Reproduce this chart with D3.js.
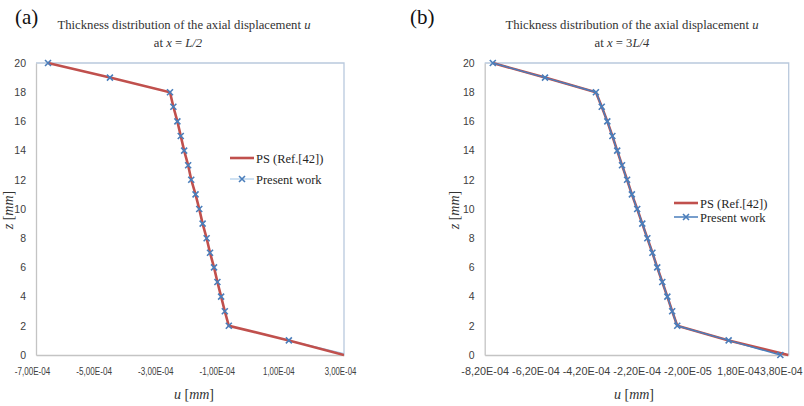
<!DOCTYPE html>
<html>
<head>
<meta charset="utf-8">
<script src="https://cdn.jsdelivr.net/npm/d3@7"></script>
<style>
  body { margin: 0; background: #fff; }
  text { font-family: "Liberation Sans", Arial, sans-serif; }
  .serif { font-family: "Liberation Serif", "Times New Roman", serif; }
</style>
</head>
<body>
<div class="vis"></div>
<script>
// thickness coordinate z [mm]
const zLevels = [20, 19, 18, 17, 16, 15, 14, 13, 12, 11, 10, 9, 8, 7, 6, 5, 4, 3, 2, 1, 0];

// (a) x = L/2
const psA = [-6.61e-4, -4.60e-4, -2.65e-4, -2.54e-4, -2.41e-4, -2.30e-4, -2.19e-4, -2.06e-4, -1.96e-4, -1.82e-4, -1.70e-4,
  -1.59e-4, -1.46e-4, -1.35e-4, -1.22e-4, -1.11e-4, -0.99e-4, -0.87e-4, -0.74e-4, 1.21e-4, 3.0e-4];
// last point lies past the axis end, so its marker is cut off like in excel
const presentA = [-6.61e-4, -4.60e-4, -2.65e-4, -2.54e-4, -2.41e-4, -2.30e-4, -2.19e-4, -2.06e-4, -1.96e-4, -1.82e-4, -1.70e-4,
  -1.59e-4, -1.46e-4, -1.35e-4, -1.22e-4, -1.11e-4, -0.99e-4, -0.87e-4, -0.74e-4, 1.21e-4, 3.2e-4];

// (b) x = 3L/4
const psB = [-7.88e-4, -5.82e-4, -3.81e-4, -3.58e-4, -3.36e-4, -3.16e-4, -2.97e-4, -2.78e-4, -2.58e-4, -2.39e-4, -2.18e-4,
  -1.98e-4, -1.78e-4, -1.58e-4, -1.39e-4, -1.19e-4, -0.99e-4, -0.80e-4, -0.60e-4, 1.43e-4, 3.78e-4];
const presentB = [-7.88e-4, -5.82e-4, -3.81e-4, -3.58e-4, -3.36e-4, -3.16e-4, -2.97e-4, -2.78e-4, -2.58e-4, -2.39e-4, -2.18e-4,
  -1.98e-4, -1.78e-4, -1.58e-4, -1.39e-4, -1.19e-4, -0.99e-4, -0.80e-4, -0.60e-4, 1.43e-4, 3.47e-4];

const xTicksA = [-7e-4, -5e-4, -3e-4, -1e-4, 1e-4, 3e-4];
const xTicksB = [-8.2e-4, -6.2e-4, -4.2e-4, -2.2e-4, -2e-5, 1.8e-4, 3.8e-4];
const yTicks = [0, 2, 4, 6, 8, 10, 12, 14, 16, 18, 20];
const seriesNames = ["PS (Ref.[42])", "Present work"];

// excel style "-7,00E-04"
const sci = v => {
  let s = d3.format(".2e")(v).replace("\u2212", "-").replace(".", ",");
  let [m, e] = s.split("e");
  let neg = e.indexOf("-") >= 0 || e.indexOf("\u2212") >= 0;
  let ex = e.replace(/[+\-\u2212]/, "");
  if (ex.length < 2) ex = "0" + ex;
  return m + "E" + (neg ? "-" : "+") + ex;
};

const svg = d3.select(".vis").append("svg")
  .attr("width", 804).attr("height", 406);

const draw = (opt) => {
  const x = d3.scaleLinear().domain(opt.xDomain).range(opt.xRange);
  const y = d3.scaleLinear().domain([0, 20]).range([355, 63]);
  const g = svg.append("g");

  const clipId = "clip" + opt.tag;
  svg.append("clipPath").attr("id", clipId).append("rect")
    .attr("x", opt.xRange[0] - 6).attr("y", 56)
    .attr("width", opt.xRange[1] - opt.xRange[0] + 6 + opt.clipPad).attr("height", 306);

  // plot area border (top/right)
  g.append("path")
    .attr("d", `M${opt.xRange[0]},63H${opt.xRange[1]}V355`)
    .attr("fill", "none").attr("stroke", "#b9c9dd").attr("stroke-width", 1.3);

  // axes
  const xAxis = g.append("g").attr("transform", "translate(0,355)")
    .call(d3.axisBottom(x).tickValues(opt.xTicks).tickSize(0).tickPadding(12).tickFormat(sci));
  const yAxis = g.append("g").attr("transform", `translate(${opt.xRange[0]},0)`)
    .call(d3.axisLeft(y).tickValues(yTicks).tickSize(0).tickPadding(10));
  [xAxis, yAxis].forEach(a => {
    a.select(".domain").attr("stroke", "#c4c4c4").attr("stroke-width", 1.3);
    a.selectAll("text").attr("font-size", 10.5).attr("fill", "#404040")
      .attr("font-family", "'Liberation Sans', Arial, sans-serif");
  });
  // the source used a narrow font (Calibri), so squeeze labels to its widths
  xAxis.selectAll("text")
    .attr("font-size", opt.labelSize)
    .attr("dx", opt.labelShift)
    .attr("textLength", function () { return this.textContent.length * opt.charWidth; })
    .attr("lengthAdjust", "spacingAndGlyphs");
  if (opt.lastLabelEnd) {
    const last = opt.xTicks[opt.xTicks.length - 1];
    xAxis.selectAll(".tick").filter(d => d === last).select("text")
      .attr("text-anchor", "end").attr("x", opt.lastLabelEnd - x(last)).attr("dx", 0);
  }

  const line = d3.line().x(d => x(d[0])).y(d => y(d[1]));
  const psData = opt.ps.map((v, i) => [v, zLevels[i]]);
  const prData = opt.present.map((v, i) => [v, zLevels[i]]);

  const lines = g.append("g").attr("clip-path", `url(#${clipId})`);
  const drawPs = () => lines.append("path").datum(psData).attr("d", line)
    .attr("fill", "none").attr("stroke", "#c0504d").attr("stroke-width", 2.6);
  const drawPr = () => lines.append("path").datum(prData).attr("d", line)
    .attr("fill", "none").attr("stroke", opt.presentColor).attr("stroke-width", opt.presentWidth);
  if (opt.presentOnTop) { drawPs(); drawPr(); } else { drawPr(); drawPs(); }

  const cross = (sel, cx, cy) => sel.append("path")
    .attr("d", `M${cx - 3},${cy - 3}L${cx + 3},${cy + 3}M${cx - 3},${cy + 3}L${cx + 3},${cy - 3}`)
    .attr("stroke", "#4a7ebb").attr("stroke-width", 1.6).attr("fill", "none");
  const marks = lines.append("g");
  prData.forEach(d => cross(marks, x(d[0]), y(d[1])));

  // legend
  const lg = g.append("g").attr("transform", `translate(${opt.legend[0]},${opt.legend[1]})`);
  lg.append("line").attr("x1", 0).attr("x2", 24).attr("y1", 0).attr("y2", 0)
    .attr("stroke", "#c0504d").attr("stroke-width", 2.6);
  lg.append("line").attr("x1", 0).attr("x2", 24).attr("y1", opt.legendGap).attr("y2", opt.legendGap)
    .attr("stroke", opt.presentColor).attr("stroke-width", Math.max(1, opt.presentWidth));
  cross(lg, 12, opt.legendGap);
  seriesNames.forEach((n, i) => lg.append("text").attr("class", "serif")
    .attr("x", 26).attr("y", i * opt.legendGap + 4.5)
    .attr("font-size", 12.5).attr("fill", "#262626").text(n));

  // titles
  const t1 = g.append("text").attr("class", "serif").attr("x", opt.titleX).attr("y", 29)
    .attr("text-anchor", "middle").attr("font-size", 12.7).attr("fill", "#333");
  t1.append("tspan").text("Thickness distribution of the axial displacement ");
  t1.append("tspan").attr("font-style", "italic").text("u");
  const t2 = g.append("text").attr("class", "serif").attr("x", opt.subX).attr("y", 47)
    .attr("text-anchor", "middle").attr("font-size", 12.7).attr("fill", "#333");
  opt.sub.forEach(p => t2.append("tspan").attr("font-style", p[1] ? "italic" : null).text(p[0]));

  g.append("text").attr("class", "serif").attr("x", opt.panel[1]).attr("y", 24)
    .attr("font-size", 21).attr("fill", "#111").text(opt.panel[0]);

  // axis titles
  const xt = g.append("text").attr("class", "serif").attr("x", opt.xTitleX).attr("y", 399)
    .attr("text-anchor", "middle").attr("font-size", 14).attr("fill", "#333");
  xt.append("tspan").attr("font-style", "italic").text("u");
  xt.append("tspan").text(" [");
  xt.append("tspan").attr("font-style", "italic").text("mm");
  xt.append("tspan").text("]");
  const yt = g.append("text").attr("class", "serif")
    .attr("transform", `translate(${opt.yTitleX},210) rotate(-90)`)
    .attr("text-anchor", "middle").attr("font-size", 14).attr("fill", "#333");
  yt.append("tspan").attr("font-style", "italic").text("z");
  yt.append("tspan").text(" [");
  yt.append("tspan").attr("font-style", "italic").text("mm");
  yt.append("tspan").text("]");
};

draw({
  tag: "a", xDomain: [-7e-4, 3e-4], xRange: [36, 344], xTicks: xTicksA,
  labelShift: -4, labelSize: 11, charWidth: 3.95, lastLabelEnd: null, clipPad: 0,
  ps: psA, present: presentA, presentColor: "#9dc3e6", presentWidth: 1, presentOnTop: false,
  legend: [230, 158], legendGap: 21, titleX: 184, subX: 178,
  sub: [["at  "], ["x", true], [" = "], ["L/2", true]], panel: ["(a)", 15],
  xTitleX: 194, yTitleX: 13
});

draw({
  tag: "b", xDomain: [-8.2e-4, 3.8e-4], xRange: [484.7, 788.7], xTicks: xTicksB,
  labelShift: 0, labelSize: 11, charWidth: 5.3, lastLabelEnd: 802, clipPad: 6,
  ps: psB, present: presentB, presentColor: "#4a7ebb", presentWidth: 1.5, presentOnTop: true,
  legend: [674, 203], legendGap: 14, titleX: 632, subX: 622,
  sub: [["at "], ["x", true], [" = 3"], ["L/4", true]], panel: ["(b)", 410],
  xTitleX: 634, yTitleX: 459
});
</script>
</body>
</html>
